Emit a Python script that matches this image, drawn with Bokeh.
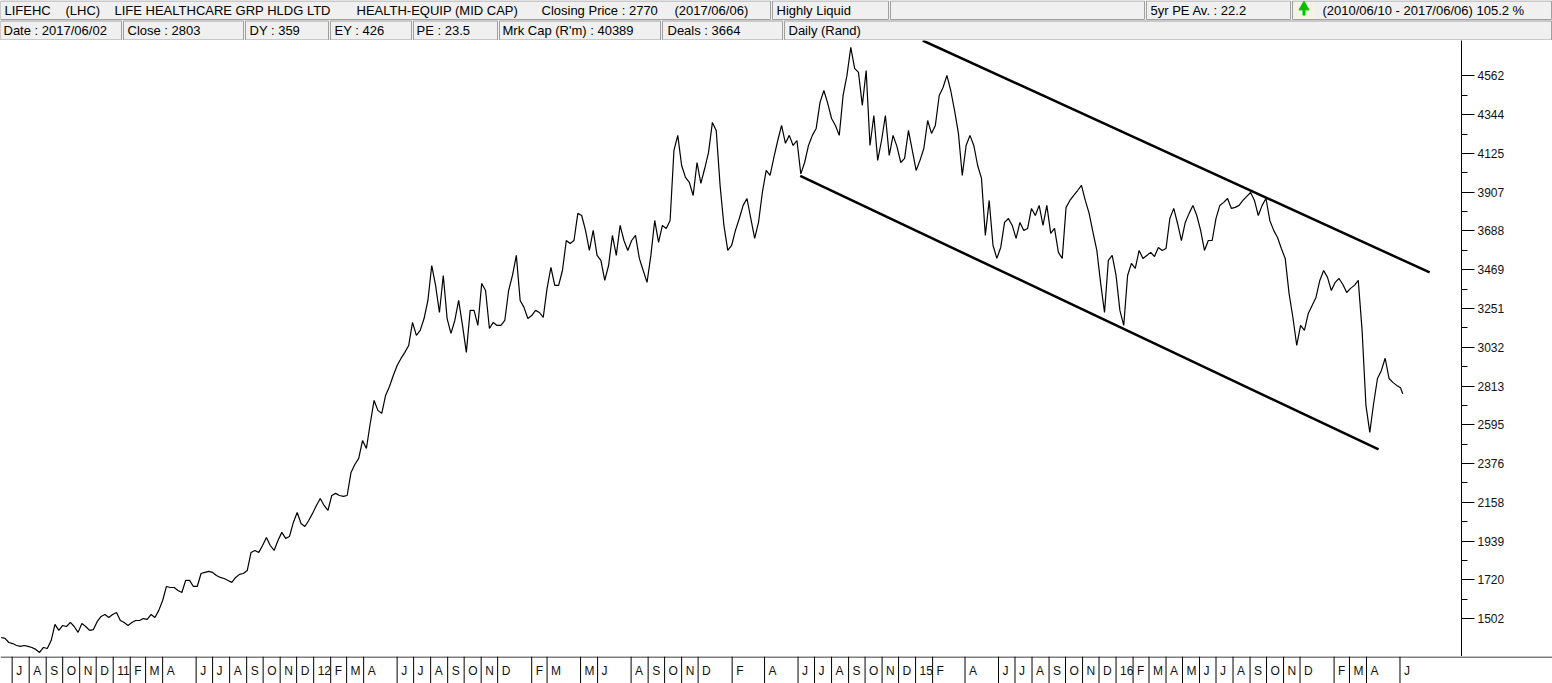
import pandas as pd
from bokeh.plotting import figure
from bokeh.layouts import column
from bokeh.models import Range1d, LinearAxis, FixedTicker
from bokeh.core.properties import value
from bokeh.embed import file_html
from bokeh.resources import INLINE

# ---------------- data (weekly closes, cents) ----------------
first_week = "2010-06-11"
prices_2010 = [1395, 1390, 1367, 1361, 1350, 1345, 1350, 1345, 1339, 1328, 1311, 1339, 1333, 1378, 1469,
               1435, 1463, 1457, 1480, 1457, 1424, 1474, 1457, 1435, 1440, 1486, 1514, 1525, 1508, 1525]
prices_2011 = [1536, 1491, 1480, 1463, 1480, 1491, 1491, 1502, 1497, 1525, 1508, 1548, 1604, 1683, 1677,
               1677, 1660, 1649, 1717, 1717, 1683, 1683, 1756, 1762, 1768, 1762, 1745, 1734, 1728, 1717,
               1706, 1734, 1751, 1756, 1773, 1875, 1886, 1875, 1914, 1959, 1914, 1886, 1942, 1988, 1954,
               1965, 2044, 2100, 2038, 2021, 2055, 2095]
prices_2012 = [2140, 2179, 2140, 2112, 2196, 2208, 2196, 2191, 2196, 2326, 2371, 2405, 2506, 2461, 2602,
               2732, 2676, 2659, 2760, 2811, 2873, 2929, 2969, 3003, 3042, 3172, 3099, 3127, 3194, 3296,
               3493, 3381, 3228, 3437, 3194, 3110, 3183, 3296, 3155, 3003, 3240, 3240, 3155, 3392, 3352,
               3138, 3172, 3155, 3155, 3183, 3352, 3437]
prices_2013 = [3550, 3296, 3257, 3194, 3211, 3240, 3228, 3200, 3364, 3482, 3381, 3381, 3465, 3634, 3617,
               3634, 3787, 3775, 3691, 3578, 3691, 3550, 3522, 3409, 3493, 3663, 3550, 3719, 3634, 3578,
               3634, 3663, 3533, 3465, 3398, 3550, 3747, 3623, 3719, 3702, 3747, 4142, 4227, 4057, 3990,
               3962, 3888, 4074, 3956, 4040, 4131, 4300]
prices_2014 = [4255, 3945, 3719, 3578, 3606, 3691, 3758, 3832, 3871, 3758, 3646, 3736, 3905, 4029, 4001,
               4103, 4198, 4283, 4182, 4227, 4170, 4198, 4010, 4074, 4170, 4227, 4266, 4413, 4480, 4407,
               4322, 4283, 4227, 4452, 4565, 4723, 4605, 4582, 4396, 4593, 4170, 4339, 4086, 4198, 4339,
               4114, 4227, 4165, 4074, 4097, 4255, 4142]
prices_2015 = [4029, 4086, 4153, 4311, 4238, 4283, 4452, 4497, 4565, 4480, 4367, 4238, 4001, 4170, 4227,
               4170, 4057, 3984, 3663, 3860, 3606, 3533, 3595, 3736, 3758, 3719, 3646, 3736, 3691, 3702,
               3815, 3775, 3832, 3719, 3832, 3674, 3702, 3567, 3533, 3821, 3860, 3888, 3916, 3945, 3860,
               3787, 3680, 3578, 3392, 3228, 3522, 3550]
prices_2016 = [3437, 3240, 3155, 3437, 3505, 3477, 3578, 3533, 3550, 3567, 3544, 3595, 3578, 3589, 3759,
               3815, 3730, 3634, 3736, 3787, 3832, 3775, 3691, 3578, 3634, 3634, 3759, 3832, 3849, 3871,
               3815, 3821, 3832, 3860, 3883, 3905, 3860, 3775, 3832, 3871, 3747, 3691, 3651, 3589, 3533,
               3336, 3200, 3042, 3155, 3127, 3223, 3268, 3313]
prices_2017 = [3409, 3465, 3426, 3352, 3398, 3420, 3386, 3341, 3364, 3381, 3409, 3127, 2704, 2552, 2715,
               2856, 2900, 2970, 2856, 2834, 2817, 2803]
last_date = "2017-06-06"
last_close = 2770

# channel (trend) lines
upper_dates = ["2015-01-14", "2017-07-25"]
upper_values = [4762, 3454]
lower_dates = ["2014-06-05", "2017-04-23"]
lower_values = [3998, 2456]

# axis ticks
y_ticks = [1502, 1720, 1939, 2158, 2376, 2595, 2813, 3032, 3251, 3469, 3688, 3907, 4125, 4344, 4562]
month_dates = ["2010-07-01", "2010-08-01", "2010-09-01", "2010-10-01", "2010-11-01", "2010-12-01",
               "2011-01-01", "2011-02-01", "2011-03-01", "2011-04-01", "2011-06-01", "2011-07-01",
               "2011-08-01", "2011-09-01", "2011-10-01", "2011-11-01", "2011-12-01",
               "2012-01-01", "2012-02-01", "2012-03-01", "2012-04-01", "2012-06-01", "2012-07-01",
               "2012-08-01", "2012-09-01", "2012-10-01", "2012-11-01", "2012-12-01",
               "2013-02-01", "2013-03-01", "2013-05-01", "2013-06-01", "2013-08-01", "2013-09-01",
               "2013-10-01", "2013-11-01", "2013-12-01",
               "2014-02-01", "2014-04-01", "2014-06-01", "2014-07-01", "2014-08-01", "2014-09-01",
               "2014-10-01", "2014-11-01", "2014-12-01",
               "2015-01-01", "2015-02-01", "2015-04-01", "2015-06-01", "2015-07-01", "2015-08-01",
               "2015-09-01", "2015-10-01", "2015-11-01", "2015-12-01",
               "2016-01-01", "2016-02-01", "2016-03-01", "2016-04-01", "2016-05-01", "2016-06-01",
               "2016-07-01", "2016-08-01", "2016-09-01", "2016-10-01", "2016-11-01", "2016-12-01",
               "2017-02-01", "2017-03-01", "2017-04-01", "2017-06-01"]
month_labels = ["J", "A", "S", "O", "N", "D",
                "11", "F", "M", "A", "J", "J", "A", "S", "O", "N", "D",
                "12", "F", "M", "A", "J", "J", "A", "S", "O", "N", "D",
                "F", "M", "M", "J", "A", "S", "O", "N", "D",
                "F", "A", "J", "J", "A", "S", "O", "N", "D",
                "15", "F", "A", "J", "J", "A", "S", "O", "N", "D",
                "16", "F", "M", "A", "M", "J", "J", "A", "S", "O", "N", "D",
                "F", "M", "A", "J"]

header_row1 = ["LIFEHC", "(LHC)", "LIFE HEALTHCARE GRP HLDG LTD", "HEALTH-EQUIP (MID CAP)",
               "Closing Price : 2770", "(2017/06/06)", "Highly Liquid", "5yr PE Av. : 22.2",
               "(2010/06/10 - 2017/06/06)  105.2 %"]
header_row2 = ["Date : 2017/06/02", "Close : 2803", "DY : 359", "EY : 426", "PE : 23.5",
               "Mrk Cap (R'm) : 40389", "Deals : 3664", "Daily (Rand)"]

# ---------------- build ----------------
prices = prices_2010 + prices_2011 + prices_2012 + prices_2013 + prices_2014 + prices_2015 + prices_2016 + prices_2017
dates = list(pd.date_range(first_week, periods=len(prices), freq="7D")) + [pd.Timestamp(last_date)]
closes = prices + [last_close]

W = 1552
RIGHT = 91
FRAME_W = W - RIGHT
x_start = pd.Timestamp("2010-06-09 19:00")
x_end = pd.Timestamp("2017-09-21")
y_lo, y_hi = 1288, 4762

FONT_NAME = "Liberation Sans"
FONT = value(FONT_NAME)

# header
hdr = figure(width=W, height=40, x_range=Range1d(0, 1552), y_range=Range1d(40, 0),
             output_backend="svg", toolbar_location=None, x_axis_location=None, y_axis_location=None,
             min_border=0, background_fill_color="#f0f0f0", border_fill_color="#f0f0f0",
             frame_align=False)
hdr.grid.visible = False
hdr.outline_line_color = None
r1_left = [0, 772, 890, 1146, 1292]
r1_right = [770, 888, 1144, 1290, 1551]
r2_left = [0, 123, 245, 330, 413, 499, 662, 784]
r2_right = [121, 243, 328, 411, 497, 660, 782, 1551]
hdr.quad(left=r1_left, right=r1_right, top=[0.5] * 5, bottom=[19] * 5,
         fill_color="#f0f0f0", line_color="#a0a0a0", line_width=1)
hdr.quad(left=r2_left, right=r2_right, top=[20.5] * 8, bottom=[39.5] * 8,
         fill_color="#f0f0f0", line_color="#a0a0a0", line_width=1)
hdr.quad(left=[1294], right=[1314], top=[1.5], bottom=[18], fill_color="#f4f4e6", line_color=None)
hdr.quad(left=[1302], right=[1305], top=[8], bottom=[15], fill_color="#00c000", line_color=None)
hdr.scatter(x=[1303.5], y=[6.5], marker="triangle", size=10, fill_color="#00c000", line_color="#00c000")
r1_x = [4, 65, 114, 356, 541, 674, 776, 1150, 1322]
r2_x = [3, 127, 249, 334, 416, 502, 667, 788]
hdr.text(x=r1_x, y=[10] * len(r1_x), text=header_row1, text_font=FONT, text_font_size="13px",
         text_baseline="middle", text_align="left", text_color="black")
hdr.text(x=r2_x, y=[30] * len(r2_x), text=header_row2, text_font=FONT, text_font_size="13px",
         text_baseline="middle", text_align="left", text_color="black")

# main chart
p = figure(width=W, height=616, x_axis_type="datetime", x_range=Range1d(x_start, x_end),
           y_range=Range1d(y_lo, y_hi), output_backend="svg", toolbar_location=None,
           x_axis_location=None, y_axis_location=None,
           min_border_left=0, min_border_right=RIGHT, min_border_top=0, min_border_bottom=0,
           frame_align=False)
p.grid.visible = False
p.outline_line_color = None
minor = [(a + b) / 2 for a, b in zip(y_ticks[:-1], y_ticks[1:])]
yax = LinearAxis(ticker=FixedTicker(ticks=y_ticks, minor_ticks=minor),
                 major_tick_out=13, major_tick_in=0, minor_tick_out=6, minor_tick_in=0,
                 major_label_standoff=3, major_label_text_font_size="12px",
                 major_label_text_font=FONT_NAME, major_label_text_color="#111111",
                 axis_line_color="black", major_tick_line_color="black", minor_tick_line_color="black")
p.add_layout(yax, "right")
p.line(dates, closes, line_color="black", line_width=1.2)
p.line(pd.to_datetime(upper_dates), upper_values, line_color="black", line_width=2.5)
p.line(pd.to_datetime(lower_dates), lower_values, line_color="black", line_width=2.5)

# bottom month strip (same time scale, frame spans the full width)
b_end = x_start + (x_end - x_start) * (W / FRAME_W)
bot = figure(width=W, height=27, x_axis_type="datetime", x_range=Range1d(x_start, b_end),
             y_range=Range1d(27, 0), output_backend="svg", toolbar_location=None,
             x_axis_location=None, y_axis_location=None, min_border=0, frame_align=False)
bot.grid.visible = False
bot.outline_line_color = None
bot.segment(x0=[x_start], y0=[0.5], x1=[b_end], y1=[0.5], line_color="black", line_width=1)
md = pd.to_datetime(month_dates)
bot.segment(x0=md, y0=[0] * len(md), x1=md, y1=[27] * len(md), line_color="black", line_width=1)
bot.text(x=md, y=[14] * len(md), text=month_labels, x_offset=4, text_font=FONT,
         text_font_size="12px", text_baseline="middle", text_align="left", text_color="#111111")

layout = column(hdr, p, bot, spacing=0)
open("out.html", "w").write(file_html(layout, INLINE))
